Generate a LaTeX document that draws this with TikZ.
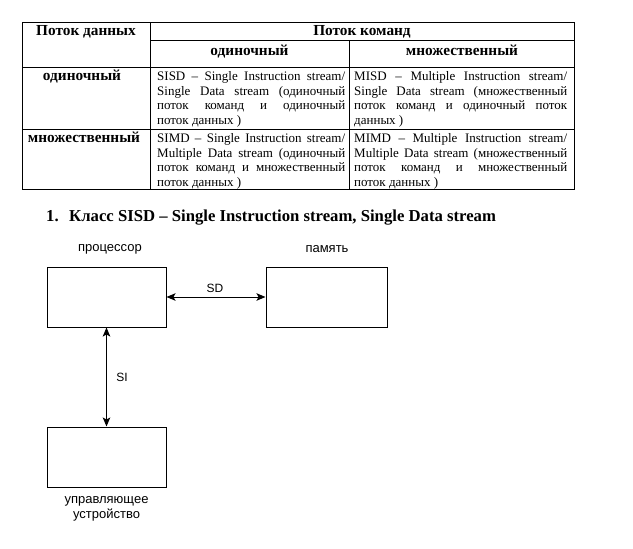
\documentclass[tikz,border=0pt]{standalone}
\usepackage{fontspec}
\setmainfont{Liberation Serif}
\newfontfamily\arialfont{Liberation Sans}
\usetikzlibrary{arrows.meta}

\newcommand\celltext[2]{\parbox[t]{#1}{\fontsize{13}{14.6}\selectfont #2}}
\newcommand\jline[1]{\makebox[\linewidth][s]{#1}\\}

\tikzset{
  tabline/.style={line width=0.9pt, black},
  hdr/.style={font=\fontsize{15.3}{17}\selectfont\bfseries, inner sep=0pt, anchor=base},
  cell/.style={inner sep=0pt, anchor=base west},
  blk/.style={draw, line width=1pt, minimum height=60pt, inner sep=0pt},
  lbl/.style={font=\arialfont\fontsize{13}{15.5}\selectfont, inner sep=0pt, align=center},
  sml/.style={font=\arialfont\fontsize{12}{14}\selectfont, inner sep=0pt},
  link/.style={line width=1pt, {Stealth[length=9pt,width=7.5pt,inset=2pt]}-{Stealth[length=9pt,width=7.5pt,inset=2pt]}},
}

\begin{document}
\begin{tikzpicture}[x=1pt,y=-1pt]
\useasboundingbox (0,0) rectangle (633,549);

% ---------- table ----------
\draw[tabline] (22,22) rectangle (574,189);
\draw[tabline] (150,22) -- (150,189);
\draw[tabline] (349,40) -- (349,189);
\draw[tabline] (150,40) -- (574,40);
\draw[tabline] (22,67) -- (574,67);
\draw[tabline] (22,129) -- (574,129);

\node[hdr] (h1) at (86,35) {Поток данных};
\node[hdr] (h2) at (362,35) {Поток команд};
\node[hdr] (h3) at (249.5,55.5) {одиночный};
\node[hdr] (h4) at (462,55.5) {множественный};
\node[hdr] (r1) at (82,80.5) {одиночный};
\node[hdr] (r2) at (84,142.5) {множественный};

\node[cell] (c11) at (157,80.5) {\celltext{188pt}{%
\jline{SISD – Single Instruction stream/}%
\jline{Single Data stream (одиночный}%
\jline{поток команд и одиночный}%
поток данных )}};
\node[cell] (c12) at (354,80.5) {\celltext{213pt}{%
\jline{MISD – Multiple Instruction stream/}%
\jline{Single Data stream (множественный}%
\jline{поток команд и одиночный поток}%
данных )}};
\node[cell] (c21) at (157,142.5) {\celltext{188pt}{%
\jline{SIMD – Single Instruction stream/}%
\jline{Multiple Data stream (одиночный}%
\jline{поток команд и множественный}%
поток данных )}};
\node[cell] (c22) at (354,142.5) {\celltext{213pt}{%
\jline{MIMD – Multiple Instruction stream/}%
\jline{Multiple Data stream (множественный}%
\jline{поток команд и множественный}%
поток данных )}};

% ---------- title ----------
\node[anchor=base west, inner sep=0pt, font=\fontsize{16.7}{19}\selectfont\bfseries] (title) at (46,221.7)
  {\makebox[23pt][l]{1.}Класс SISD – Single Instruction stream, Single Data stream};

% ---------- diagram ----------
\node[blk, minimum width=119pt] (cpu) at (106.5,297) {};
\node[blk, minimum width=121pt] (mem) at (326.5,297) {};
\node[blk, minimum width=119pt] (cu) at (106.5,457) {};

\node[lbl] (cpul) at (110,249) {процессор};
\node[lbl] (meml) at (327,249) {память};
\node[lbl] (cul) at (106.5,509) {управляющее\\устройство};

\draw[link] (cpu.east) -- (mem.west);
\draw[link] (cpu.south) -- (cu.north);
\node[sml] (sd) at (215,288.7) {SD};
\node[sml] (si) at (122,377) {SI};
\end{tikzpicture}
\end{document}
